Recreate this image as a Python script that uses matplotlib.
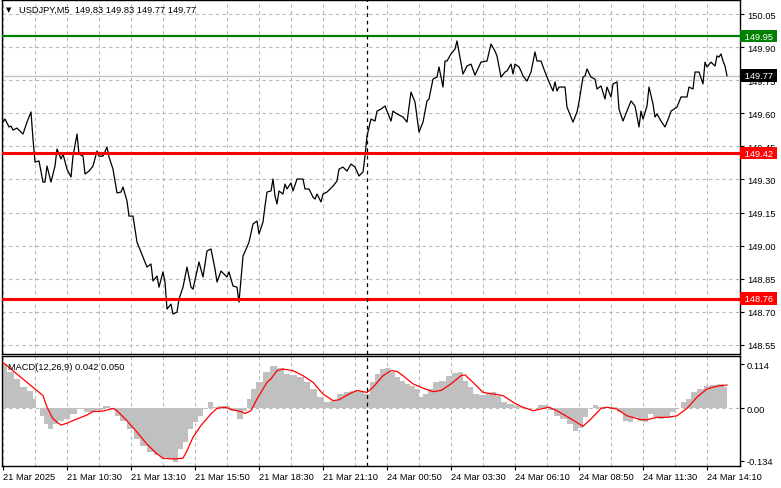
import matplotlib
matplotlib.use("Agg")
import matplotlib.pyplot as plt

plt.rcParams['font.family'] = ['Liberation Sans', 'DejaVu Sans']

# USDJPY M5 closes: bar number from the left edge, price
price_bar = [0, 1, 3, 4, 5, 7, 10, 12, 14, 15, 16, 18, 20, 21, 22, 24, 26, 27, 29, 30,
             32, 34, 35, 37, 38, 40, 41, 43, 45, 47, 48, 50, 52, 53, 55, 57, 59, 60, 62, 63,
             65, 67, 70, 72, 74, 75, 77, 78, 80, 81, 82, 84, 85, 87, 88, 90, 92, 94, 95, 98,
             100, 102, 104, 106, 107, 109, 112, 113, 115, 117, 118, 120, 122, 123, 125, 127, 128, 130, 131, 132,
             134, 135, 136, 137, 138, 140, 141, 142, 144, 145, 147, 150, 151, 153, 155, 156, 157, 159, 160, 162,
             165, 167, 168, 170, 172, 174, 176, 178, 180, 181, 182, 184, 186, 187, 189, 191, 192, 194, 195, 197,
             200, 202, 204, 206, 208, 210, 212, 213, 215, 217, 218, 220, 221, 222, 224, 226, 227, 230, 232, 234,
             236, 239, 242, 244, 246, 247, 249, 251, 252, 254, 255, 256, 258, 259, 260, 262, 264, 266, 267, 269,
             271, 273, 275, 276, 277, 278, 281, 282, 285, 287, 288, 290, 291, 292, 294, 296, 297, 299, 301, 302,
             304, 305, 307, 308, 310, 312, 314, 316, 318, 319, 320, 322, 323, 325, 326, 327, 329, 331, 333, 334,
             337, 339, 342, 343, 345, 346, 348, 350, 351, 352, 354, 356, 357, 358, 359, 360, 361, 362]
price_close = [149.560, 149.574, 149.538, 149.542, 149.524, 149.533, 149.506, 149.560, 149.606, 149.483,
               149.379, 149.384, 149.288, 149.288, 149.361, 149.288, 149.361, 149.438, 149.393, 149.415,
               149.347, 149.311, 149.406, 149.506, 149.415, 149.406, 149.325, 149.338, 149.361, 149.429,
               149.406, 149.406, 149.447, 149.402, 149.347, 149.239, 149.243, 149.266, 149.202, 149.134,
               149.134, 149.016, 148.948, 148.903, 148.917, 148.840, 148.862, 148.812, 148.881, 148.835,
               148.713, 148.735, 148.690, 148.699, 148.758, 148.812, 148.903, 148.812, 148.803, 148.926,
               148.858, 148.976, 148.985, 148.894, 148.835, 148.885, 148.858, 148.881, 148.817, 148.812,
               148.744, 148.953, 148.994, 149.016, 149.098, 149.112, 149.053, 149.107, 149.180, 149.243,
               149.248, 149.302, 149.225, 149.189, 149.248, 149.234, 149.279, 149.257, 149.284, 149.248,
               149.302, 149.302, 149.257, 149.257, 149.220, 149.211, 149.234, 149.198, 149.234, 149.243,
               149.270, 149.293, 149.347, 149.356, 149.338, 149.370, 149.356, 149.316, 149.334, 149.406,
               149.497, 149.574, 149.565, 149.610, 149.619, 149.633, 149.610, 149.565, 149.610, 149.597,
               149.583, 149.560, 149.696, 149.651, 149.515, 149.560, 149.656, 149.665, 149.755, 149.764,
               149.810, 149.719, 149.837, 149.837, 149.869, 149.891, 149.928, 149.778, 149.814, 149.823,
               149.773, 149.832, 149.837, 149.914, 149.882, 149.860, 149.764, 149.787, 149.792, 149.823,
               149.778, 149.823, 149.810, 149.792, 149.769, 149.746, 149.787, 149.878, 149.837, 149.837,
               149.787, 149.742, 149.701, 149.742, 149.701, 149.719, 149.719, 149.628, 149.560, 149.606,
               149.651, 149.764, 149.769, 149.801, 149.764, 149.755, 149.710, 149.724, 149.665, 149.719,
               149.674, 149.733, 149.742, 149.619, 149.565, 149.610, 149.656, 149.633, 149.538, 149.610,
               149.574, 149.633, 149.719, 149.642, 149.583, 149.597, 149.565, 149.538, 149.583, 149.610,
               149.628, 149.674, 149.674, 149.719, 149.710, 149.787, 149.787, 149.733, 149.832, 149.810,
               149.832, 149.814, 149.860, 149.855, 149.869, 149.837, 149.814, 149.770]

# MACD(12,26,9) histogram and signal line
hist_bar = [0, 4, 7, 10, 14, 16, 17, 20, 21, 24, 26, 29, 32, 35, 39, 42, 45, 48, 52, 55,
            57, 60, 64, 67, 70, 74, 77, 80, 84, 86, 89, 91, 94, 96, 99, 101, 104, 106, 109, 112,
            115, 119, 121, 123, 125, 128, 132, 135, 139, 142, 145, 149, 152, 155, 159, 162, 165, 169, 172, 175,
            179, 182, 185, 187, 190, 192, 195, 197, 200, 202, 205, 207, 209, 211, 214, 216, 220, 223, 226, 229,
            231, 234, 236, 240, 243, 245, 248, 250, 254, 257, 259, 262, 266, 269, 271, 274, 277, 280, 284, 286,
            289, 291, 294, 296, 299, 302, 305, 309, 311, 314, 316, 319, 321, 324, 326, 329, 332, 335, 338, 340,
            343, 345, 349, 352, 355, 359, 362]
hist_val = [0.114, 0.094, 0.076, 0.055, 0.045, 0.024, 0.000, -0.019, -0.040, -0.053,
            -0.040, -0.032, -0.027, -0.014, -0.002, -0.009, -0.008, -0.004, 0.006, -0.002,
            -0.019, -0.032, -0.053, -0.079, -0.096, -0.113, -0.121, -0.126, -0.130, -0.137,
            -0.104, -0.087, -0.053, -0.036, -0.019, -0.001, 0.017, 0.003, 0.005, 0.005,
            -0.007, -0.027, -0.007, 0.024, 0.050, 0.068, 0.094, 0.109, 0.105, 0.088,
            0.085, 0.081, 0.068, 0.050, 0.029, 0.016, 0.019, 0.037, 0.042, 0.045,
            0.042, 0.037, 0.068, 0.088, 0.101, 0.104, 0.094, 0.081, 0.070, 0.063,
            0.058, 0.050, 0.029, 0.037, 0.050, 0.068, 0.070, 0.083, 0.091, 0.094,
            0.070, 0.055, 0.037, 0.035, 0.040, 0.042, 0.032, 0.016, 0.012, 0.006,
            0.003, 0.000, 0.000, 0.009, 0.008, -0.004, -0.019, -0.027, -0.040, -0.058,
            -0.050, -0.022, 0.000, 0.009, 0.003, 0.000, 0.003, -0.009, -0.032, -0.036,
            -0.022, -0.032, -0.034, -0.014, -0.022, -0.027, -0.022, -0.009, 0.000, 0.016,
            0.024, 0.042, 0.050, 0.058, 0.060, 0.063, 0.055]
signal_bar = [0, 8, 15, 20, 22, 25, 29, 32, 37, 42, 45, 50, 55, 57, 62, 67, 72, 77, 80, 85,
              90, 92, 95, 99, 104, 107, 111, 115, 119, 121, 124, 127, 132, 134, 137, 140, 145, 150, 155, 160,
              165, 168, 173, 177, 182, 185, 190, 194, 197, 200, 205, 210, 215, 219, 224, 229, 231, 235, 240, 245,
              250, 255, 259, 265, 273, 277, 284, 290, 294, 299, 302, 307, 312, 319, 322, 327, 332, 337, 342, 347,
              352, 357, 362]
signal_val = [0.118, 0.084, 0.054, 0.033, 0.003, -0.027, -0.043, -0.038, -0.027, -0.017,
              -0.008, -0.007, 0.000, -0.006, -0.032, -0.061, -0.092, -0.117, -0.128, -0.130,
              -0.128, -0.109, -0.074, -0.044, -0.014, 0.000, 0.003, -0.004, -0.008, -0.013,
              -0.006, 0.024, 0.067, 0.076, 0.097, 0.101, 0.097, 0.084, 0.067, 0.037,
              0.020, 0.022, 0.037, 0.046, 0.041, 0.054, 0.084, 0.097, 0.095, 0.084,
              0.063, 0.052, 0.043, 0.046, 0.063, 0.084, 0.086, 0.067, 0.041, 0.037,
              0.033, 0.016, 0.005, -0.006, 0.003, -0.006, -0.027, -0.046, -0.027, 0.000,
              0.003, -0.002, -0.019, -0.029, -0.029, -0.023, -0.023, -0.019, 0.000, 0.029,
              0.050, 0.057, 0.060]

price_ticks = [148.55, 148.70, 148.85, 149.00, 149.15, 149.30, 149.45, 149.60, 149.75, 149.90, 150.05]
macd_ticks = [-0.134, 0.0, 0.114]
macd_tick_labels = ['-0.134', '0.00', '0.114']
time_tick_bars = [0, 32, 64, 96, 128, 160, 192, 224, 256, 288, 320, 352]
time_tick_labels = ['21 Mar 2025', '21 Mar 10:30', '21 Mar 13:10', '21 Mar 15:50',
                    '21 Mar 18:30', '21 Mar 21:10', '24 Mar 00:50', '24 Mar 03:30',
                    '24 Mar 06:10', '24 Mar 08:50', '24 Mar 11:30', '24 Mar 14:10']
grid_bars = [16, 48, 80, 112, 144, 176, 208, 240, 272, 304, 336]

resistance = 149.95
supports = [149.42, 148.76]
last_price = 149.77
separator_bar = 182
header = 'USDJPY,M5  149.83 149.83 149.77 149.77'
macd_title = 'MACD(12,26,9) 0.042 0.050'

W, H = 781, 489
fs = 6.7
grid_kw = dict(color='#b8b8b8', linestyle=(0, (3, 3)), linewidth=0.8)

fig = plt.figure(figsize=(W / 100, H / 100), dpi=100)
ax = fig.add_axes([2 / W, (H - 355) / H, 738 / W, 354 / H])
am = fig.add_axes([2 / W, (H - 467) / H, 738 / W, 110 / H])

for a in (ax, am):
    a.set_xlim(-0.5, 368.5)
    for s in a.spines.values():
        s.set_color('black')
        s.set_linewidth(1.0)
    a.set_axisbelow(True)
    a.yaxis.tick_right()
    a.tick_params(axis='y', length=3, width=0.8, pad=2, labelsize=fs, colors='black')

# price panel
ax.set_ylim(148.509, 150.1135)
ax.set_yticks(price_ticks)
ax.set_yticklabels(['%.2f' % p for p in price_ticks])
ax.set_xticks(time_tick_bars + grid_bars)
ax.tick_params(axis='x', length=0, labelbottom=False)
ax.grid(True, **grid_kw)

ax.axhline(last_price, color='#c0c0c0', lw=1.0, zorder=2)
ax.plot(price_bar, price_close, color='black', lw=0.9, zorder=3)
ax.axhline(resistance, color='#008000', lw=1.6, zorder=4)
for lvl in supports:
    ax.axhline(lvl, color='#ff0000', lw=2.2, zorder=4)
ax.axvline(separator_bar, color='black', lw=0.9, linestyle=(0, (3, 3)), zorder=4)

box_x = 1 + 1.5 / 738
for lvl, col in [(resistance, '#008000'), (last_price, 'black'),
                 (supports[0], '#ff0000'), (supports[1], '#ff0000')]:
    ax.text(box_x, lvl, ' %.2f ' % lvl, transform=ax.get_yaxis_transform(),
            ha='left', va='center', fontsize=fs, color='white', zorder=10, clip_on=False,
            bbox=dict(boxstyle='square,pad=0.2', fc=col, ec='none'))

ax.text(4 / 738, 1 - 9 / 354, '\u25bc', transform=ax.transAxes, ha='left', va='center',
        fontsize=5, color='black', family=['DejaVu Sans'])
ax.text(17 / 738, 1 - 9 / 354, header, transform=ax.transAxes, ha='left', va='center',
        fontsize=fs, color='black')

# MACD panel
am.set_ylim(-0.148, 0.1346)
am.set_yticks(macd_ticks)
am.set_yticklabels(macd_tick_labels)
am.set_xticks(time_tick_bars)
am.set_xticklabels(time_tick_labels)
am.set_xticks(grid_bars, minor=True)
am.tick_params(axis='x', which='major', length=3, width=0.8, pad=1.5, labelsize=fs, colors='black')
am.tick_params(axis='x', which='minor', length=0)
for lab in am.get_xticklabels():
    lab.set_horizontalalignment('left')
am.grid(True, axis='x', which='both', **grid_kw)
am.axhline(0, zorder=1, **grid_kw)

am.fill_between(hist_bar, 0, hist_val, step='mid', color='#c0c0c0', lw=0, zorder=2)
am.plot(signal_bar, signal_val, color='#ff0000', lw=0.9, zorder=3)
am.axvline(separator_bar, color='black', lw=0.9, linestyle=(0, (3, 3)), zorder=4)
am.text(6 / 738, 1 - 10 / 110, macd_title, transform=am.transAxes, ha='left', va='center',
        fontsize=fs, color='black')

fig.savefig('out.png', dpi=100)
